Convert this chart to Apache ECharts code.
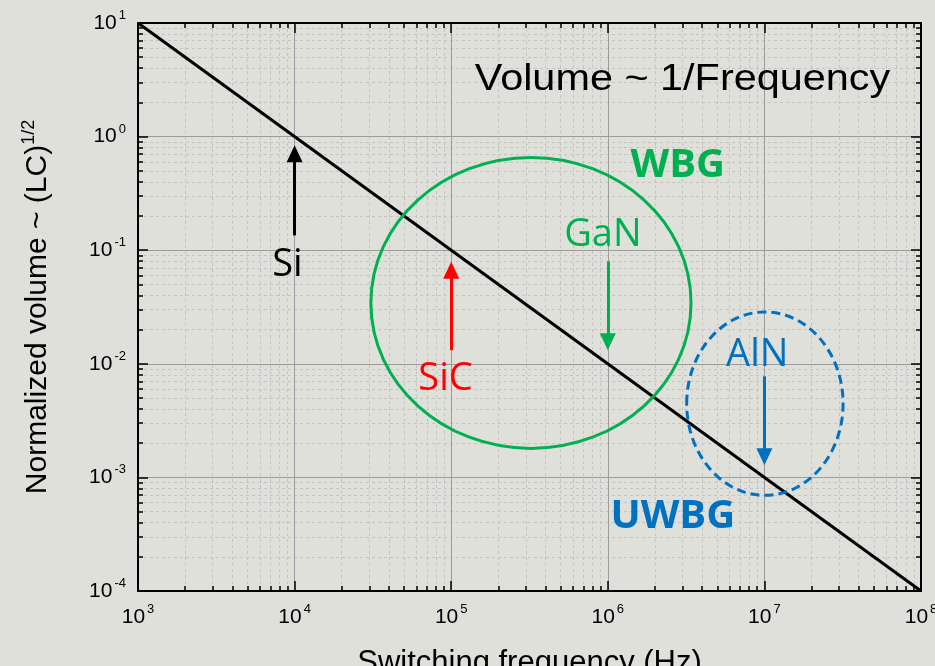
<!DOCTYPE html>
<html><head><meta charset="utf-8">
<script src="https://cdn.jsdelivr.net/npm/echarts@6/dist/echarts.min.js"></script>
<style>html,body{margin:0;padding:0;background:#e0e0db;} #c{width:935px;height:666px;}</style>
</head><body><div id="c"></div>
<script>
// ---- data ----
const xMajorTicks = [1e3, 1e4, 1e5, 1e6, 1e7, 1e8];
const yMajorTicks = [1e-4, 1e-3, 1e-2, 1e-1, 1e0, 1e1];
const minorMultipliers = [2, 3, 4, 5, 6, 7, 8, 9];
const lineFreq = [1e3, 1e8];
const lineVolume = [10, 1e-4];

const arrowFreq = [1e4, 1e5, 1e6, 1e7];
const arrowFromVol = [0.135, 0.0132, 0.0798, 0.00776];
const arrowToVol = [0.706, 0.0666, 0.0156, 0.00152];
const arrowColors = ['#000000', '#ff0000', '#00b050', '#0070c0'];

const labelTexts = ['Si', 'SiC', 'GaN', 'AlN'];
const labelFreq = [9.0e3, 9.2e4, 9.3e5, 9.0e6];
const labelVol = [0.074, 0.0073, 0.135, 0.0119];

const regionNames = ['WBG', 'UWBG'];
const regionFreqMin = [3.07e4, 3.19e6];
const regionFreqMax = [3.4e6, 3.18e7];
const regionVolMin = [1.8e-3, 6.95e-4];
const regionVolMax = [0.656, 0.0286];
const regionColors = ['#00b050', '#0070c0'];
const regionDashed = [false, true];
const regionLabelFreq = [2.8e6, 2.6e6];
const regionLabelVol = [0.55, 4.5e-4];

const titleText = 'Volume ~ 1/Frequency';
const titleFreq = 3.0e6;
const titleVol = 3.15;

const xTitle = 'Switching frequency (Hz)';
const yTitleMain = 'Normalized volume ~ (LC)';
const yTitleSup = '1/2';

// ---- helpers ----
function minorTicks(majors) {
  const out = [];
  for (let i = 0; i < majors.length - 1; i++) {
    for (const m of minorMultipliers) out.push(majors[i] * m);
  }
  return out;
}
const xMinorTicks = minorTicks(xMajorTicks);
const yMinorTicks = minorTicks(yMajorTicks);

const FONT = 'Liberation Sans, Arial, sans-serif';
const fmt = v => '{b|10}{s|' + Math.round(Math.log10(v)) + '}';
const labelRich = {
  b: { fontSize: 21, lineHeight: 28, fontFamily: FONT, color: '#000' },
  s: { fontSize: 13, lineHeight: 14, verticalAlign: 'top', fontFamily: FONT, color: '#000', padding: [0, 0, 0, 2] }
};

function axis(dim, position, min, max, ticks, isMajor, withLabels, extra) {
  const a = {
    type: 'log', logBase: 10, min: min, max: max, position: position, gridIndex: 0,
    z: isMajor ? 3 : 2,
    axisLine: { show: isMajor, onZero: false, lineStyle: { color: '#000', width: 2 } },
    axisTick: { show: true, inside: true, length: isMajor ? 10 : 5, customValues: ticks,
      lineStyle: { color: '#000', width: 1.5 } },
    axisLabel: withLabels ? { show: true, margin: 12, customValues: ticks, formatter: fmt, rich: labelRich,
      fontFamily: FONT, color: '#000' } : { show: false },
    splitLine: withLabels || (!isMajor && (position === 'bottom' || position === 'left')) ? {
      show: true,
      lineStyle: isMajor ? { color: '#9c9c9c', width: 1 } : { color: '#c4c4c0', width: 1, type: [3, 3] }
    } : { show: false },
    minorTick: { show: false }, minorSplitLine: { show: false }
  };
  return Object.assign(a, extra || {});
}

const option = {
  backgroundColor: '#e0e0db',
  animation: false,
  grid: { left: 138, right: 14, top: 23, bottom: 75, containLabel: false, outerBoundsMode: 'none' },
  xAxis: [
    axis('x', 'bottom', 1e3, 1e8, xMinorTicks, false, false),
    axis('x', 'bottom', 1e3, 1e8, xMajorTicks, true, true, {
      name: xTitle, nameLocation: 'middle', nameGap: 57,
      nameTextStyle: { fontFamily: FONT, fontSize: 31, color: '#000' }
    }),
    axis('x', 'top', 1e3, 1e8, xMinorTicks, false, false),
    axis('x', 'top', 1e3, 1e8, xMajorTicks, true, false)
  ],
  yAxis: [
    axis('y', 'left', 1e-4, 1e1, yMinorTicks, false, false),
    axis('y', 'left', 1e-4, 1e1, yMajorTicks, true, true, {
      name: '{n|' + yTitleMain + '}{s|' + yTitleSup + '}', nameLocation: 'middle', nameGap: 82,
      nameTextStyle: { fontFamily: FONT, fontSize: 30, color: '#000',
        rich: {
          n: { fontFamily: FONT, fontSize: 30, lineHeight: 36, color: '#000' },
          s: { fontFamily: FONT, fontSize: 18, lineHeight: 18, verticalAlign: 'top', color: '#000' }
        } }
    }),
    axis('y', 'right', 1e-4, 1e1, yMinorTicks, false, false),
    axis('y', 'right', 1e-4, 1e1, yMajorTicks, true, false)
  ],
  series: [{
    type: 'line', xAxisIndex: 1, yAxisIndex: 1,
    data: lineFreq.map((f, i) => [f, lineVolume[i]]),
    symbol: 'none', silent: true, z: 5,
    lineStyle: { color: '#000', width: 3 },
    emphasis: { disabled: true },
    markLine: {
      silent: true, animation: false,
      label: { show: false },
      emphasis: { disabled: true },
      data: arrowFreq.map((f, i) => [
        { coord: [f, arrowFromVol[i]], symbol: 'none',
          lineStyle: { color: arrowColors[i], width: 3, type: 'solid' },
          itemStyle: { color: arrowColors[i] } },
        { coord: [f, arrowToVol[i]], symbol: 'triangle', symbolSize: [16, 17],
          itemStyle: { color: arrowColors[i] } }
      ])
    }
  }]
};

const chart = echarts.init(document.getElementById('c'), null, { renderer: 'canvas' });
chart.setOption(option);

const P = (x, y) => chart.convertToPixel({ xAxisIndex: 1, yAxisIndex: 1 }, [x, y]);
const graphics = [];
regionNames.forEach((name, i) => {
  const a = P(regionFreqMin[i], regionVolMax[i]);
  const b = P(regionFreqMax[i], regionVolMin[i]);
  graphics.push({
    type: 'ellipse', silent: true, z: 50,
    shape: { cx: (a[0] + b[0]) / 2, cy: (a[1] + b[1]) / 2, rx: Math.abs(b[0] - a[0]) / 2, ry: Math.abs(b[1] - a[1]) / 2 },
    style: { fill: 'none', stroke: regionColors[i], lineWidth: 3, lineDash: regionDashed[i] ? [9, 5] : null }
  });
  const p = P(regionLabelFreq[i], regionLabelVol[i]);
  graphics.push({
    type: 'text', silent: true, z: 60, x: p[0], y: p[1],
    style: { text: name, fill: regionColors[i], fontFamily: 'Open Sans', fontWeight: 'bold', fontSize: 40,
      align: 'center', verticalAlign: 'middle' }
  });
});
labelTexts.forEach((t, i) => {
  const p = P(labelFreq[i], labelVol[i]);
  graphics.push({
    type: 'text', silent: true, z: 60, x: p[0], y: p[1],
    style: { text: t, fill: arrowColors[i], fontFamily: 'Open Sans', fontSize: 38,
      align: 'center', verticalAlign: 'middle' }
  });
});
const tp = P(titleFreq, titleVol);
graphics.push({
  type: 'text', silent: true, z: 60, x: tp[0], y: tp[1], scaleX: 1.15,
  style: { text: titleText, fill: '#000', fontFamily: FONT, fontSize: 36, align: 'center', verticalAlign: 'middle' }
});
chart.setOption({ graphic: graphics });
</script>
</body></html>
